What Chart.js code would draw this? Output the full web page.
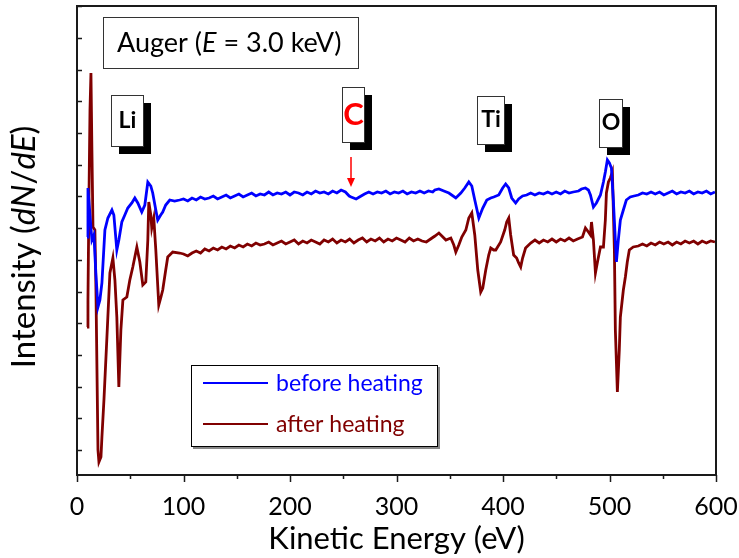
<!DOCTYPE html>
<html>
<head>
<meta charset="utf-8">
<script src="https://cdn.jsdelivr.net/npm/chart.js@4.4.0/dist/chart.umd.min.js"></script>
<style>
  html, body { margin: 0; padding: 0; background: #fff; }
  canvas { display: block; }
</style>
</head>
<body>
<canvas id="auger" width="739" height="558"></canvas>
<script>
"use strict";

// kinetic energy (eV) and dN/dE intensity (arb. units)
const beforeEnergy = [
  9.4, 10.3, 12.2, 14.0, 15.9, 17.8, 19.7, 21.5, 23.4, 26.2,
  29.0, 32.8, 34.6, 37.4, 39.3, 42.1, 44.9, 47.7, 51.5, 54.3,
  57.1, 60.8, 63.7, 66.5, 69.3, 71.1, 74.0, 75.8, 78.6, 80.5,
  83.3, 87.1, 91.7, 96.4,
  100, 104, 108, 112, 116, 120, 124, 128, 132, 136,
  140, 144, 148, 152, 156, 160, 164, 168, 172, 176,
  180, 184, 188, 192, 196, 200, 204, 208, 212, 216,
  220, 224, 228, 232, 236, 240, 244, 248, 252,
  255.6, 257.4, 262.1, 266.8, 270, 274, 278, 282, 286, 290,
  294, 298, 302, 306, 310, 314, 318, 322, 326, 330,
  334,
  336, 339.8, 344.5, 349.2, 355.7, 360.4, 364.1, 367.9, 370.7, 373.5,
  377.3, 381, 384.8, 388.5, 391.3, 396, 399.7, 402.5, 405.4, 408.2,
  411.9, 414.7, 418.4, 422.2,
  426, 430, 434, 438, 442, 446, 450, 454, 458, 462,
  466, 470.9,
  473.7, 477.4, 480.2, 482.1, 484.9, 487.7, 491.5, 494.3, 496.1, 498.0,
  499.9, 501.8, 503.6, 506.5, 508.3, 510.2, 513.0, 515.8, 519.5, 523,
  527, 531, 535, 539, 543, 547, 551, 555, 559, 563,
  567, 571, 575, 579, 583, 587, 591, 595, 599
];
const beforeIntensity = [
  238, 287, 260, 235, 240, 200, 168, 175, 192, 245,
  257, 265, 260, 225, 235, 253, 260, 267, 272, 277,
  272, 263, 270, 293, 289, 282, 265, 255, 260, 263,
  270, 275, 274, 275,
  276, 274, 277, 275, 278, 276, 277, 279, 276, 278,
  280, 277, 279, 281, 278, 280, 282, 279, 281, 280,
  283, 280, 282, 281, 283, 280, 283, 282, 280, 283,
  281, 284, 282, 283, 281, 284, 282, 285, 283,
  279, 278, 276, 279, 281, 283, 281, 283, 282, 284,
  281, 283, 282, 284, 281, 283, 282, 284, 282, 284,
  283,
  285, 286, 284, 282, 277, 282, 287, 293, 289, 275,
  257, 267, 275, 277, 278, 280, 287, 291, 287, 277,
  272, 276, 279, 280,
  282, 280, 282, 281, 283, 281, 283, 281, 284, 282,
  283, 284,
  286, 287, 285, 280, 268, 272, 280, 293, 303, 315,
  312, 307, 275, 213, 235, 255, 265, 275, 278, 279,
  280, 282, 281, 283, 281, 283, 280, 282, 284, 281,
  283, 282, 284, 281, 283, 282, 284, 281, 283
];

const afterEnergy = [
  9.4, 10.3, 11.2, 12.2, 13.1, 14.0, 15.0, 16.8, 17.8, 19.7,
  20.6, 22.5, 23.4, 25.3, 28.1, 30.9, 33.7, 35.6, 37.4, 39.3,
  41.2, 43.1, 46.8, 49.6, 52.4, 56.2, 59.0, 61.8, 64.6, 66.5,
  67.4, 69.3, 70.2, 72.1, 74.0, 76.8, 78.6, 80.5, 83.3, 85.2,
  89.9, 96.4,
  100, 104, 108, 112, 116, 120, 124, 128, 132, 136,
  140, 144, 148, 152, 156, 160, 164, 168, 172, 176,
  180, 184, 188, 192, 196, 200, 204, 208, 212, 216,
  220, 224, 228, 232, 236, 240, 244, 248, 252, 256,
  260, 264, 268, 272, 276, 280, 284, 288, 292, 296,
  300, 304, 308, 312, 316, 320, 324, 328, 332,
  336.1, 339.8, 342.6, 346.4, 351.0, 353.8, 355.7, 358.5, 361.3, 365.1,
  367.9, 370.7, 373.5, 376.3, 379.1, 381.0, 383.8, 386.6, 388.5, 391.3,
  393.2, 397.8, 401.6, 403.5, 405.4, 407.2, 410.0, 412.8, 414.7, 416.6,
  418.4, 421.2,
  426, 430, 434, 438, 442, 446, 450, 454, 458, 462,
  466, 470, 474.6,
  477.4, 480.2, 482.1, 483.1, 484.9, 486.8, 488.7, 491.5, 494.3, 496.1,
  497.1, 499.0, 500.8, 502.7, 504.6, 505.5, 507.4, 509.2, 510.2, 513.0,
  514.9, 516.7, 518.6, 522.3,
  527, 531, 535, 539, 543, 547, 551, 555, 559, 563,
  567, 571, 575, 579, 583, 587, 591, 595, 599
];
const afterIntensity = [
  148, 175, 275, 365, 402, 325, 248, 245, 185, 25,
  13, 18, 38, 75, 138, 202, 217, 195, 158, 88,
  145, 175, 178, 195, 208, 228, 213, 190, 193, 235,
  273, 260, 247, 257, 225, 170, 177, 185, 205, 218,
  223, 222,
  221, 219, 222, 224, 222, 226, 224, 227, 225, 228,
  226, 229, 227, 230, 228, 231, 229, 232, 230, 231,
  233, 230, 232, 234, 231, 233, 235, 231, 234, 232,
  235, 233, 231, 235, 233, 236, 232, 235, 233, 236,
  232, 235, 237, 233, 236, 234, 237, 233, 236, 234,
  237, 235, 233, 237, 234, 236, 234, 233, 236,
  239, 242, 239, 235, 237, 230, 223, 230, 238, 245,
  257, 262, 240, 205, 183, 187, 205, 220, 227, 225,
  225, 233, 245, 253, 257, 240, 220, 217, 212, 208,
  217, 227,
  232, 235, 232, 235, 233, 236, 233, 236, 234, 237,
  234, 236, 238,
  247, 243, 240, 253, 235, 202, 213, 228, 228, 255,
  282, 293, 297, 303, 225, 145, 83, 125, 158, 185,
  198, 213, 225, 228,
  229, 231, 229, 232, 230, 233, 231, 233, 230, 233,
  231, 234, 232, 234, 231, 234, 232, 234, 233
];

const xTickStep = 50;
const yTickStart = 25;
const yTickStep = 31.7;

const toPoints = (xs, ys) => xs.map((x, i) => ({ x: x, y: ys[i] }));

const FONT = "Lato, 'Open Sans', sans-serif";

// draws the frame, inward y ticks, outward x ticks and all annotations
const decorations = {
  id: "decorations",
  afterDraw(chart) {
    const ctx = chart.ctx;
    const a = chart.chartArea;
    const xs = chart.scales.x;
    const ys = chart.scales.y;
    ctx.save();

    ctx.strokeStyle = "#1a1a1a";
    ctx.lineWidth = 1.5;
    ys.ticks.forEach(t => {
      const y = Math.round(ys.getPixelForValue(t.value)) + 0.5;
      ctx.beginPath();
      ctx.moveTo(a.left, y);
      ctx.lineTo(a.left + 5, y);
      ctx.stroke();
    });
    xs.ticks.forEach(t => {
      const x = Math.round(xs.getPixelForValue(t.value)) + 0.5;
      const len = t.value % 100 === 0 ? 7 : 4;
      ctx.beginPath();
      ctx.moveTo(x, a.bottom);
      ctx.lineTo(x, a.bottom + len);
      ctx.stroke();
    });

    ctx.lineWidth = 2;
    ctx.strokeRect(a.left, a.top, a.right - a.left, a.bottom - a.top);

    // y axis title with italic dN/dE
    const yParts = [["Intensity (", ""], ["dN", "italic "], ["/", ""], ["dE", "italic "], [")", ""]];
    ctx.save();
    ctx.translate(24, 247);
    ctx.rotate(-Math.PI / 2);
    ctx.fillStyle = "#000";
    ctx.textBaseline = "middle";
    let total = 0;
    yParts.forEach(p => { ctx.font = p[1] + "33px " + FONT; total += ctx.measureText(p[0]).width; });
    let cx = -total / 2;
    yParts.forEach(p => {
      ctx.font = p[1] + "33px " + FONT;
      ctx.fillText(p[0], cx, 0);
      cx += ctx.measureText(p[0]).width;
    });
    ctx.restore();

    // title box
    ctx.fillStyle = "#fff";
    ctx.fillRect(103, 17, 255, 51);
    ctx.strokeStyle = "#333";
    ctx.lineWidth = 1;
    ctx.strokeRect(103.5, 17.5, 255, 51);
    const tParts = [["Auger (", ""], ["E", "italic "], [" = 3.0 keV)", ""]];
    ctx.fillStyle = "#000";
    ctx.textBaseline = "alphabetic";
    let tx = 117;
    tParts.forEach(p => {
      ctx.font = p[1] + "27px " + FONT;
      ctx.fillText(p[0], tx, 52);
      tx += ctx.measureText(p[0]).width;
    });

    // element labels with drop shadow
    const labels = [
      { t: "Li", x: 111, y: 95, w: 32, h: 51, c: "#000", s: 23 },
      { t: "C", x: 342, y: 87, w: 22, h: 55, c: "#ff0000", s: 31 },
      { t: "Ti", x: 477, y: 96, w: 27, h: 48, c: "#000", s: 23 },
      { t: "O", x: 599, y: 99, w: 23, h: 48, c: "#000", s: 23 }
    ];
    labels.forEach(l => {
      ctx.fillStyle = "#000";
      ctx.fillRect(l.x + 8, l.y + 8, l.w, l.h);
      ctx.fillStyle = "#fff";
      ctx.fillRect(l.x, l.y, l.w, l.h);
      ctx.strokeStyle = "#333";
      ctx.strokeRect(l.x + 0.5, l.y + 0.5, l.w, l.h);
      ctx.fillStyle = l.c;
      ctx.font = "bold " + l.s + "px " + FONT;
      ctx.textAlign = "center";
      ctx.textBaseline = "middle";
      ctx.fillText(l.t, l.x + l.w / 2 + 0.5, l.y + l.h / 2);
    });
    ctx.textAlign = "left";

    // arrow to C dip
    ctx.strokeStyle = "#ff0000";
    ctx.fillStyle = "#ff0000";
    ctx.lineWidth = 1.5;
    ctx.beginPath();
    ctx.moveTo(351, 157);
    ctx.lineTo(351, 180);
    ctx.stroke();
    ctx.beginPath();
    ctx.moveTo(347, 178);
    ctx.lineTo(355, 178);
    ctx.lineTo(351, 187);
    ctx.closePath();
    ctx.fill();

    // legend
    ctx.fillStyle = "#888";
    ctx.fillRect(193, 367, 247, 82);
    ctx.fillStyle = "#fff";
    ctx.fillRect(191, 365, 247, 82);
    ctx.strokeStyle = "#000";
    ctx.lineWidth = 1;
    ctx.strokeRect(191.5, 365.5, 246, 81);
    chart.data.datasets.forEach((ds, i) => {
      const ly = 383 + i * 41;
      ctx.strokeStyle = ds.borderColor;
      ctx.lineWidth = 2;
      ctx.beginPath();
      ctx.moveTo(203, ly);
      ctx.lineTo(268, ly);
      ctx.stroke();
      ctx.fillStyle = ds.borderColor;
      ctx.font = "23px " + FONT;
      ctx.textBaseline = "middle";
      ctx.fillText(ds.label, 276, ly + 1);
    });

    ctx.restore();
  }
};

new Chart(document.getElementById("auger"), {
  type: "line",
  data: {
    datasets: [
      {
        label: "before heating",
        data: toPoints(beforeEnergy, beforeIntensity),
        borderColor: "#0000ff",
        borderWidth: 2.8,
        pointRadius: 0,
        tension: 0
      },
      {
        label: "after heating",
        data: toPoints(afterEnergy, afterIntensity),
        borderColor: "#800000",
        borderWidth: 2.8,
        pointRadius: 0,
        tension: 0
      }
    ]
  },
  options: {
    responsive: false,
    animation: false,
    layout: { padding: { top: 6, right: 23, left: 0, bottom: 0 } },
    plugins: {
      legend: { display: false },
      tooltip: { enabled: false }
    },
    scales: {
      x: {
        type: "linear",
        min: 0,
        max: 600,
        grid: { display: false },
        border: { display: false },
        ticks: {
          stepSize: xTickStep,
          autoSkip: false,
          maxRotation: 0,
          padding: 9,
          color: "#000",
          font: { family: FONT, size: 25 },
          callback: v => (v % 100 === 0 ? v : "")
        },
        title: {
          display: true,
          text: "Kinetic Energy (eV)",
          color: "#000",
          font: { family: FONT, size: 31 },
          padding: { top: 0, bottom: 0 }
        },
        afterFit: s => { s.height = 83; s.paddingLeft = 0; s.paddingRight = 0; }
      },
      y: {
        type: "linear",
        min: 0,
        max: 469,
        grid: { display: false },
        border: { display: false },
        ticks: { display: false },
        afterBuildTicks: s => {
          const t = [];
          for (let v = yTickStart; v <= 469; v += yTickStep) t.push({ value: v });
          s.ticks = t;
        },
        afterFit: s => { s.width = 77; }
      }
    }
  },
  plugins: [decorations]
});
</script>
</body>
</html>
